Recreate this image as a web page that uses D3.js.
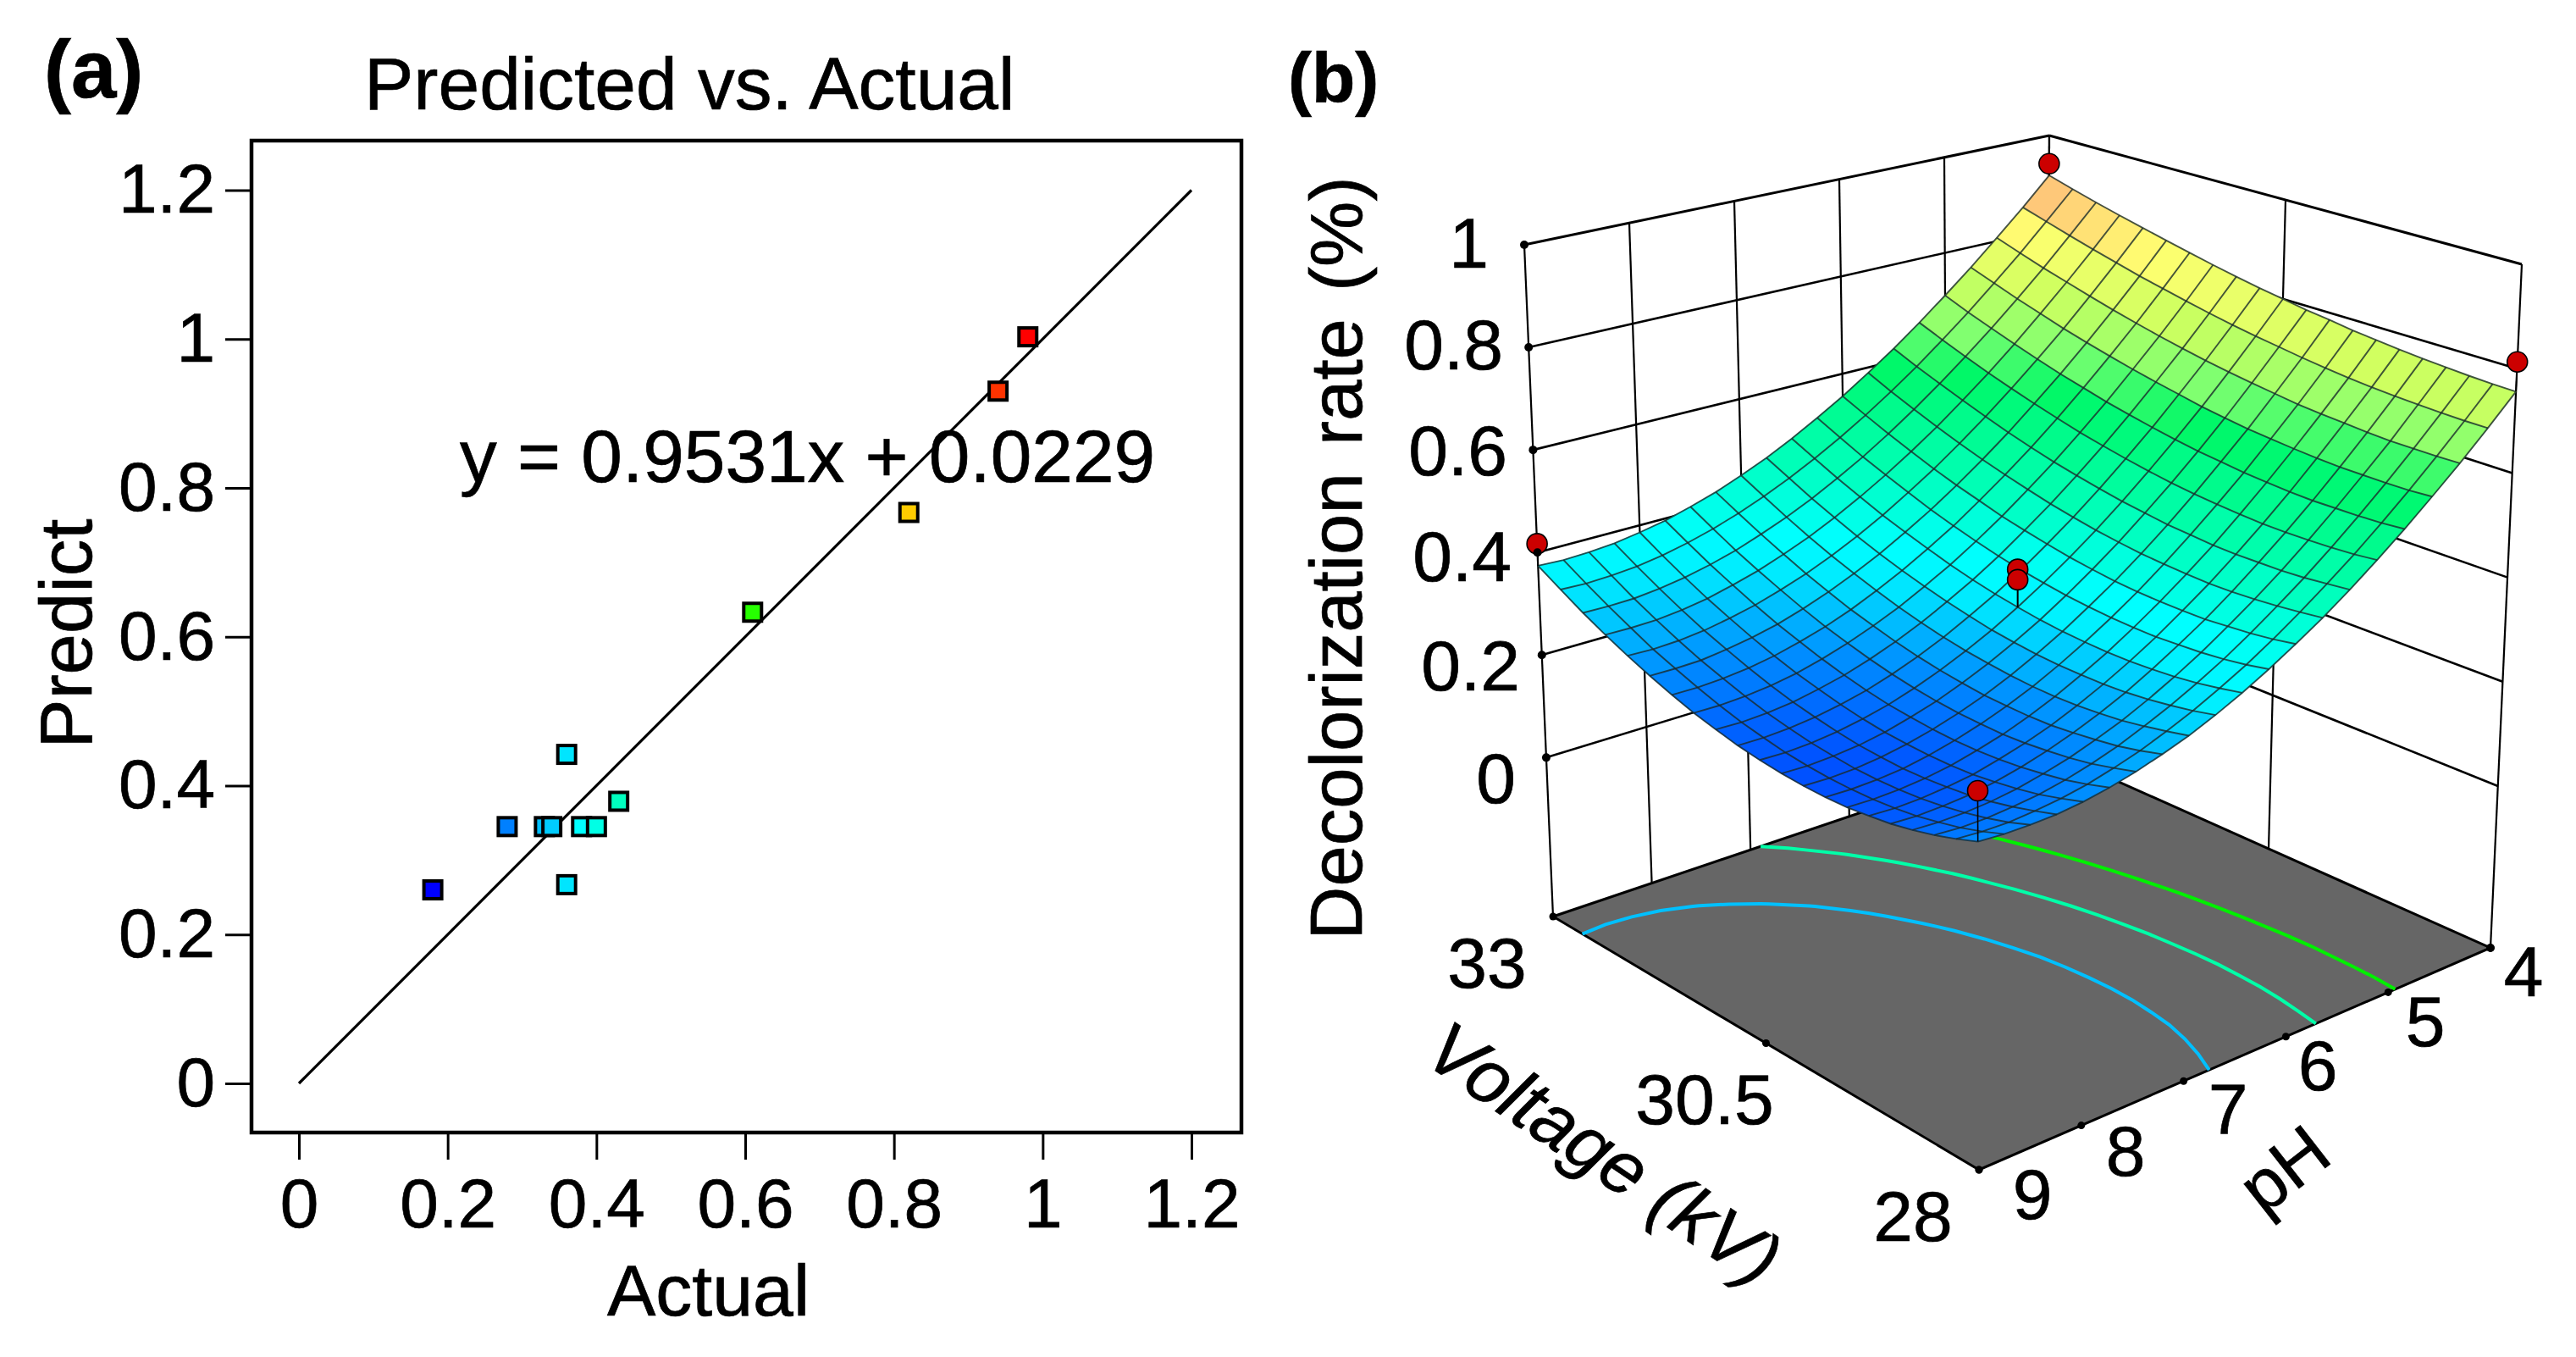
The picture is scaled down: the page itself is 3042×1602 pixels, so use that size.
<!DOCTYPE html>
<meta charset="utf-8" />
<style>
  body {
    margin: 0;
    background: #fff;
  }
  text {
    font-family: "Liberation Sans", Arial, sans-serif;
    fill: #000;
    stroke: #000;
    stroke-width: 0.7;
  }
  .axis text {
    font-size: 82px;
    font-family: "Liberation Sans", Arial, sans-serif;
  }
  .axis line {
    stroke: #000;
    stroke-width: 3;
  }
</style>
<body>
  <div class="container"></div>

  <script src="https://d3js.org/d3.v7.min.js"></script>
  <script>
    // panel (a) values
    const actual = [0.18, 0.28, 0.33, 0.34, 0.38, 0.4, 0.36, 0.36, 0.43, 0.61, 0.82, 0.94, 0.98];
    const predicted = [0.26, 0.345, 0.345, 0.345, 0.345, 0.345, 0.442, 0.267, 0.379, 0.633, 0.767, 0.93, 1.003];
    const fitLine = [0, 1.2];
    const abTicks = [0, 0.2, 0.4, 0.6, 0.8, 1, 1.2];

    // panel (b) values
    const pHValues = [4, 4.25, 4.5, 4.75, 5, 5.25, 5.5, 5.75, 6, 6.25, 6.5, 6.75, 7, 7.25, 7.5, 7.75, 8, 8.25, 8.5, 8.75, 9];
    const voltageValues = [33, 32.75, 32.5, 32.25, 32, 31.75, 31.5, 31.25, 31, 30.75, 30.5, 30.25, 30, 29.75, 29.5, 29.25, 29, 28.75, 28.5, 28.25, 28];
    // one row per voltage, one column per pH
    const surfaceZ = [
      [.915,.859,.807,.757,.711,.667,.626,.589,.554,.523,.494,.468,.446,.426,.410,.396,.386,.378,.374,.372,.374],
      [.900,.844,.790,.740,.692,.648,.606,.568,.533,.501,.472,.446,.423,.403,.386,.372,.361,.353,.349,.347,.349],
      [.886,.829,.774,.723,.675,.630,.588,.549,.513,.480,.451,.424,.401,.381,.363,.349,.338,.330,.325,.324,.325],
      [.873,.815,.760,.708,.659,.613,.571,.531,.495,.462,.432,.405,.381,.361,.343,.329,.317,.309,.304,.303,.304],
      [.861,.802,.746,.693,.644,.598,.555,.515,.478,.445,.414,.387,.363,.342,.325,.310,.299,.290,.285,.283,.285],
      [.849,.789,.733,.680,.630,.584,.540,.500,.463,.429,.399,.371,.347,.326,.308,.293,.282,.274,.268,.267,.268],
      [.838,.778,.721,.668,.618,.571,.527,.487,.450,.415,.385,.357,.333,.311,.293,.279,.267,.259,.254,.252,.253],
      [.827,.767,.710,.657,.606,.559,.515,.475,.437,.403,.372,.345,.320,.299,.281,.266,.254,.246,.241,.239,.240],
      [.817,.757,.700,.647,.596,.549,.505,.464,.427,.392,.361,.334,.309,.288,.270,.255,.244,.235,.230,.228,.230],
      [.808,.748,.691,.638,.587,.540,.496,.455,.418,.383,.352,.325,.300,.279,.261,.246,.235,.227,.222,.220,.221],
      [.800,.740,.683,.629,.579,.532,.488,.447,.410,.376,.345,.317,.293,.272,.254,.239,.228,.220,.215,.213,.215],
      [.792,.733,.676,.622,.572,.525,.482,.441,.404,.370,.339,.312,.288,.267,.249,.235,.223,.215,.211,.209,.211],
      [.786,.726,.670,.616,.567,.520,.476,.436,.399,.366,.335,.308,.284,.263,.246,.232,.221,.213,.208,.207,.209],
      [.779,.720,.664,.612,.562,.516,.473,.433,.396,.363,.333,.306,.282,.262,.245,.231,.220,.212,.208,.207,.209],
      [.774,.715,.660,.608,.559,.513,.470,.431,.395,.362,.332,.306,.282,.262,.245,.232,.221,.214,.210,.209,.211],
      [.769,.711,.657,.605,.556,.511,.469,.430,.395,.362,.333,.307,.284,.264,.248,.235,.224,.218,.214,.213,.216],
      [.765,.708,.654,.603,.555,.511,.470,.431,.396,.365,.336,.310,.288,.269,.253,.240,.230,.223,.220,.219,.222],
      [.762,.706,.652,.603,.556,.512,.471,.434,.400,.368,.340,.315,.293,.275,.259,.247,.237,.231,.228,.228,.231],
      [.759,.704,.652,.603,.557,.514,.474,.438,.404,.373,.346,.322,.301,.282,.267,.255,.246,.241,.238,.238,.242],
      [.757,.703,.652,.604,.559,.517,.479,.443,.410,.380,.354,.330,.310,.292,.278,.266,.258,.253,.250,.251,.255],
      [.756,.703,.653,.607,.563,.522,.484,.449,.418,.389,.363,.340,.320,.304,.290,.279,.271,.266,.265,.266,.270],
    ];
    const dotPH = [4, 4, 9, 9, 6.5, 6.5];
    const dotVoltage = [33, 28, 33, 28, 30.5, 30.5];
    const dotZ = [0.94, 0.813, 0.417, 0.36, 0.418, 0.398];
    const contourLevels = [0.34, 0.455, 0.575];
    const contourColors = ["#00c0ff", "#00ffa8", "#00f000"];
    const zTicks = [0, 0.2, 0.4, 0.6, 0.8, 1];
    const pHTicks = [4, 5, 6, 7, 8, 9];
    const voltageTicks = [33, 30.5, 28];
    const voltageTickLabels = ["33", "30.5", "28"];

    var svg = d3
      .select(".container")
      .append("svg")
      .attr("width", 3042)
      .attr("height", 1602)
      .style("display", "block");

    svg.append("rect").attr("width", 3042).attr("height", 1602).attr("fill", "#fff");

    // ---------- panel (a) ----------
    let x = d3.scaleLinear().domain([0, 1.2]).range([353, 1407]);
    let y = d3.scaleLinear().domain([0, 1.2]).range([1279, 224.5]);

    let pointColor = d3
      .scaleLinear()
      .domain([0.18, 0.38, 0.58, 0.78, 0.98])
      .range(["#0000ff", "#00ffff", "#00ff00", "#ffff00", "#ff0000"]);

    svg
      .append("g")
      .attr("class", "axis")
      .attr("transform", "translate(297,0)")
      .call(d3.axisLeft(y).tickValues(abTicks).tickFormat(String).tickSize(31).tickPadding(12))
      .call((g) => g.select(".domain").remove());

    svg
      .append("g")
      .attr("class", "axis")
      .attr("transform", "translate(0,1337)")
      .call(d3.axisBottom(x).tickValues(abTicks).tickFormat(String).tickSize(32).tickPadding(22))
      .call((g) => g.select(".domain").remove());

    svg
      .append("rect")
      .attr("x", 297)
      .attr("y", 166)
      .attr("width", 1169)
      .attr("height", 1171)
      .attr("fill", "none")
      .attr("stroke", "#000")
      .attr("stroke-width", 4.5);

    svg
      .append("path")
      .attr("d", d3.line().x((d) => x(d)).y((d) => y(d))(fitLine))
      .attr("stroke", "#000")
      .attr("stroke-width", 3.2)
      .attr("fill", "none");

    svg
      .selectAll(".pt")
      .data(actual)
      .enter()
      .append("rect")
      .attr("class", "pt")
      .attr("x", (d) => x(d) - 10.5)
      .attr("y", (d, i) => y(predicted[i]) - 10.5)
      .attr("width", 21)
      .attr("height", 21)
      .attr("fill", (d) => pointColor(d))
      .attr("stroke", "#000")
      .attr("stroke-width", 4);

    svg.append("text").attr("x", 543).attr("y", 569).attr("font-size", 87.4).text("y = 0.9531x + 0.0229");
    svg.append("text").attr("x", 430).attr("y", 129).attr("font-size", 87.5).text("Predicted vs. Actual");
    svg.append("text").attr("x", 717).attr("y", 1553).attr("font-size", 86).text("Actual");
    svg
      .append("text")
      .attr("transform", "translate(108,748) rotate(-90)")
      .attr("text-anchor", "middle")
      .attr("font-size", 87)
      .text("Predict");
    svg.append("text").attr("x", 52).attr("y", 115).attr("font-size", 96).attr("font-weight", "bold").text("(a)");
    svg.append("text").attr("x", 1521).attr("y", 121).attr("font-size", 84).attr("font-weight", "bold").text("(b)");

    // ---------- panel (b) ----------
    let uScale = d3.scaleLinear().domain([4, 9]).range([0, 1]);
    let vScale = d3.scaleLinear().domain([33, 28]).range([0, 1]);
    let wScale = d3.scaleLinear().domain([-0.31, 1]).range([0, 1]);

    // unit square to quad: back, left, front, right
    function quadMap(q) {
      return (u, v) => {
        const along = (k) =>
          (1 - u) * (1 - v) * q[0][k] + u * (1 - v) * q[1][k] + u * v * q[2][k] + (1 - u) * v * q[3][k];
        return [along(0), along(1)];
      };
    }
    const floorMap = quadMap([[2417, 885], [1834, 1082], [2337, 1381], [2941, 1119]]);
    const topMap = quadMap([[2420, 160], [1800, 289], [2334, 506], [2978, 312]]);

    function project(pH, voltage, z) {
      const u = uScale(pH), v = vScale(voltage);
      const f = floorMap(u, v), t = topMap(u, v), w = wScale(z);
      return [f[0] + (t[0] - f[0]) * w, f[1] + (t[1] - f[1]) * w];
    }
    const zFloor = wScale.domain()[0];
    const lineGen = d3.line();

    const walls = svg.append("g").attr("fill", "none").attr("stroke", "#000");
    function wallLine(a, b, width) {
      walls.append("path").attr("d", lineGen([a, b])).attr("stroke-width", width);
    }
    zTicks.forEach((z) => {
      const w = z === 1 ? 3 : 2.6;
      wallLine(project(9, 33, z), project(4, 33, z), w);
      wallLine(project(4, 33, z), project(4, 28, z), w);
    });
    pHTicks.forEach((p) => wallLine(project(p, 33, zFloor), project(p, 33, 1), 2.2));
    voltageTicks.forEach((v) => wallLine(project(4, v, zFloor), project(4, v, 1), 2.2));

    // floor
    svg
      .append("path")
      .attr("d", lineGen([project(4, 33, zFloor), project(9, 33, zFloor), project(9, 28, zFloor), project(4, 28, zFloor)]) + "Z")
      .attr("fill", "#666666")
      .attr("stroke", "#000")
      .attr("stroke-width", 3);

    // contours on the floor, from the surface table
    const n = pHValues.length;
    const gridPH = d3.scaleLinear().domain([0.5, n - 0.5]).range([4, 9]);
    const gridV = d3.scaleLinear().domain([0.5, n - 0.5]).range([33, 28]);
    const contours = d3.contours().size([n, n]).thresholds(contourLevels)(surfaceZ.flat());
    const floorLine = d3
      .line()
      .defined((d) => d[0] > 0 && d[1] > 0 && d[0] < n && d[1] < n)
      .x((d) => project(gridPH(d[0]), gridV(d[1]), zFloor)[0])
      .y((d) => project(gridPH(d[0]), gridV(d[1]), zFloor)[1]);
    contours.forEach((c, k) => {
      c.coordinates.forEach((poly) =>
        poly.forEach((ring) => {
          svg
            .append("path")
            .attr("d", floorLine(ring))
            .attr("fill", "none")
            .attr("stroke", contourColors[k])
            .attr("stroke-width", 4);
        })
      );
    });

    // surface, back to front
    let surfaceColor = d3
      .scaleLinear()
      .domain([0.2, 0.27, 0.345, 0.38, 0.47, 0.6, 0.66, 0.74, 0.82, 0.87, 0.93])
      .range(["#0048ff", "#0090ff", "#00eeff", "#00ffff", "#00ffb8", "#00f868", "#80ff70", "#d0ff60", "#ffff70", "#ffd078", "#f8a080"]);

    const surfaceGroup = svg.append("g");
    for (let j = 0; j < n - 1; j++) {
      for (let i = 0; i < n - 1; i++) {
        const cell = [
          [i, j],
          [i + 1, j],
          [i + 1, j + 1],
          [i, j + 1],
        ];
        const avg = d3.mean(cell, (c) => surfaceZ[c[1]][c[0]]);
        const col = surfaceColor(avg);
        surfaceGroup
          .append("path")
          .attr("d", lineGen(cell.map((c) => project(pHValues[c[0]], voltageValues[c[1]], surfaceZ[c[1]][c[0]]))) + "Z")
          .attr("fill", col)
          .attr("stroke", col)
          .attr("stroke-width", 1);
      }
    }
    // mesh lines
    const mesh = svg.append("g").attr("fill", "none").attr("stroke", "#1a2a2a").attr("stroke-opacity", 0.8).attr("stroke-width", 1.9);
    surfaceZ.forEach((row, j) => {
      mesh.append("path").attr("d", lineGen(row.map((z, i) => project(pHValues[i], voltageValues[j], z))));
    });
    pHValues.forEach((p, i) => {
      mesh.append("path").attr("d", lineGen(surfaceZ.map((row, j) => project(p, voltageValues[j], row[i]))));
    });

    // design points and their sticks to the surface
    dotPH.forEach((p, k) => {
      const i = pHValues.indexOf(p), j = voltageValues.indexOf(dotVoltage[k]);
      svg
        .append("path")
        .attr("d", lineGen([project(p, dotVoltage[k], dotZ[k]), project(p, dotVoltage[k], surfaceZ[j][i])]))
        .attr("stroke", "#000")
        .attr("stroke-width", 1.6);
    });
    dotPH.forEach((p, k) => {
      const c = project(p, dotVoltage[k], dotZ[k]);
      svg
        .append("circle")
        .attr("cx", c[0])
        .attr("cy", c[1])
        .attr("r", 12)
        .attr("fill", "#cc0000")
        .attr("stroke", "#000")
        .attr("stroke-width", 1.6);
    });

    // axis dots
    function axisDot(c, r) {
      svg.append("circle").attr("cx", c[0]).attr("cy", c[1]).attr("r", r).attr("fill", "#000");
    }
    zTicks.forEach((z) => axisDot(project(9, 33, z), 5));
    pHTicks.forEach((p) => axisDot(project(p, 28, zFloor), 4.5));
    voltageTicks.forEach((v) => axisDot(project(9, v, zFloor), 4.5));
    axisDot(project(4, 28, zFloor), 5);

    // axis labels of the 3d box
    const tickFont = 84;
    const zLabelRight = [1790, 1795, 1785, 1780, 1775, 1758];
    const zLabelBase = [948, 815, 686, 561, 436, 316];
    zTicks.forEach((z, i) => {
      svg.append("text").attr("x", zLabelRight[i]).attr("y", zLabelBase[i]).attr("text-anchor", "end").attr("font-size", tickFont).text(z);
    });
    const vLabelX = [1756, 2013, 2259];
    const vLabelBase = [1166, 1327, 1465];
    voltageTickLabels.forEach((t, i) => {
      svg.append("text").attr("x", vLabelX[i]).attr("y", vLabelBase[i]).attr("text-anchor", "middle").attr("font-size", tickFont).text(t);
    });
    const pHLabelX = [2980, 2864, 2737, 2631, 2510, 2400];
    const pHLabelBase = [1176, 1235, 1287, 1338, 1388, 1439];
    pHTicks.forEach((p, i) => {
      svg.append("text").attr("x", pHLabelX[i]).attr("y", pHLabelBase[i]).attr("text-anchor", "middle").attr("font-size", tickFont).text(p);
    });

    svg
      .append("text")
      .attr("transform", "translate(1608,659) rotate(-90)")
      .attr("text-anchor", "middle")
      .attr("font-size", 87)
      .attr("word-spacing", 8)
      .text("Decolorization rate (%)");
    svg
      .append("text")
      .attr("transform", "translate(1877,1387) rotate(34)")
      .attr("text-anchor", "middle")
      .attr("font-size", 88)
      .attr("font-style", "italic")
      .text("Voltage (kV)");
    svg
      .append("text")
      .attr("transform", "translate(2715,1403) rotate(-38)")
      .attr("text-anchor", "middle")
      .attr("font-size", 84)
      .text("pH");
  </script>
</body>
